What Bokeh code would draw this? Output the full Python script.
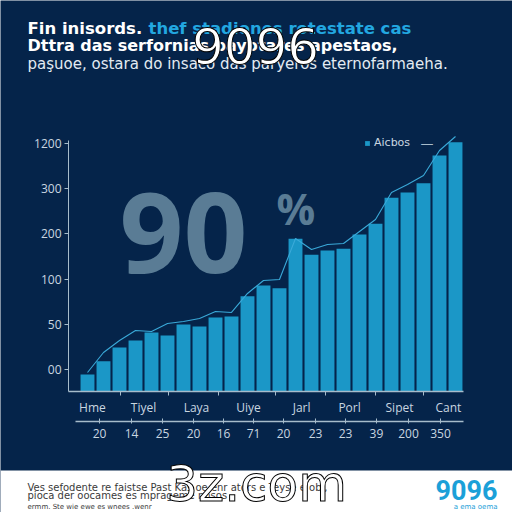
from bokeh.plotting import figure
from bokeh.models import (FixedTicker, LinearAxis, Label, BoxAnnotation, Legend,
                          LegendItem, Range1d, ColumnDataSource)
from bokeh.embed import file_html
from bokeh.resources import INLINE

# ---------------- data ----------------
bar_index = list(range(1, 25))
bar_values = [-5.5, 9.2, 24.3, 32.1, 40.9, 37.6, 49.8, 47.6, 57.5, 58.6, 81.1, 92.9,
              89.9, 144.6, 126.9, 131.6, 133.5, 149.3, 161.1, 189.9, 195.8, 206.1, 236.7, 251.4]
line_values = [-3.3, 18.8, 32.1, 43.1, 42.0, 50.9, 53.1, 56.4, 64.2, 63.1, 84.1, 98.5,
               99.6, 144.9, 132.7, 138.3, 139.4, 152.7, 166.0, 195.8, 204.6, 214.6, 242.3, 257.7]
y_tick_labels = ["00", "50", "100", "200", "300", "1200"]
categories = ["Hme", "Tiyel", "Laya", "Uiye", "Jarl", "Porl", "Sipet", "Cant"]
sub_labels = ["20", "14", "25", "20", "16", "71", "20", "23", "23", "39", "200", "350"]
legend_label = "Aicbos"

# ---------------- layout / style ----------------
W, H = 512, 512
BG = "#05244a"
BAR = "#1b97c7"
LINE = "#3aa9d8"
AX = "#a7bccb"
TXT = "#c9d6e0"

# plot geometry: the frame fills the canvas, axes sit at fixed data locations
X_PX, X0_PX, X0 = 16.0, 68, -0.1875      # px per x unit, pixel of axis, x value there
Y_PX, Y0_PX = 0.904, 369                 # px per y unit, pixel of y = 0
BASE = -24.3                             # value of the x-axis baseline
Y_TOP = 253                              # top of the y-axis line
X_END = 24.5

y_tick_pos = [0, 50, 100, 150, 200, 250]
cat_pos = [1.31, 4.5, 7.81, 11.06, 14.38, 17.38, 20.5, 23.56]
cat_bounds = [3.06, 6.06, 9.19, 12.75, 15.88, 19.0, 22.0]
sub_pos = [1.75, 3.75, 5.69, 7.63, 9.5, 11.38, 13.25, 15.25, 17.13, 19.06, 21.06, 23.06]
SUB_AXIS_Y = -57.5

x_range = Range1d(X0 - X0_PX / X_PX, X0 + (W - X0_PX) / X_PX)
y_range = Range1d(-(H - Y0_PX) / Y_PX, Y0_PX / Y_PX)

p = figure(width=W, height=H, output_backend="svg", toolbar_location=None,
           x_range=x_range, y_range=y_range, x_axis_location=None, y_axis_location=None,
           min_border=0, background_fill_color=BG, border_fill_color=BG,
           outline_line_color=None)
p.grid.visible = False

src = ColumnDataSource(dict(x=bar_index, top=bar_values, line=line_values))


def lab(text, x, y, size, color, font="DejaVu Sans", style="normal", align="left", **kw):
    l = Label(x=x, y=y, x_units="canvas", y_units="canvas", text=text,
              text_font_size=f"{size}px", text_color=color, text_font=font,
              text_font_style=style, text_align=align, text_baseline="middle", **kw)
    p.add_layout(l)
    return l


bars = p.vbar(x="x", top="top", bottom=BASE, width=0.87, source=src,
              fill_color=BAR, line_color=None)
p.line(x="x", y="line", source=src, line_color=LINE, line_width=1.1)


def style_axis(ax, size="12px"):
    ax.axis_line_color = AX
    ax.major_tick_line_color = AX
    ax.minor_tick_line_color = None
    ax.major_label_text_color = TXT
    ax.major_label_text_font = "Open Sans"
    ax.major_label_text_font_size = size


# left axis
ya = LinearAxis(ticker=FixedTicker(ticks=y_tick_pos),
                major_label_overrides=dict(zip(y_tick_pos, y_tick_labels)),
                fixed_location=X0, bounds=(BASE, Y_TOP))
style_axis(ya)
ya.major_tick_out = 4
ya.major_tick_in = 0
ya.major_label_standoff = 3
p.add_layout(ya, "left")

# first x axis: categories
xa = LinearAxis(ticker=FixedTicker(ticks=cat_pos, minor_ticks=cat_bounds),
                major_label_overrides=dict(zip(cat_pos, categories)),
                fixed_location=BASE, bounds=(X0, X_END))
style_axis(xa)
xa.axis_line_width = 1.5
xa.major_tick_line_color = None
xa.minor_tick_line_color = AX
xa.minor_tick_out = 4
xa.minor_tick_in = 0
xa.major_label_standoff = 2
p.add_layout(xa, "below")

# second x axis: numbers
xb = LinearAxis(ticker=FixedTicker(ticks=sub_pos),
                major_label_overrides=dict(zip(sub_pos, sub_labels)),
                fixed_location=SUB_AXIS_Y, bounds=(0.25, X_END))
style_axis(xb)
xb.axis_line_width = 1.5
xb.major_tick_in = 3
xb.major_tick_out = 2
xb.major_label_standoff = 6
p.add_layout(xb, "below")

# big background "90 %"
lab("90", 119, 232, 112, "#5a7c95", font="Open Sans", style="bold")
lab("%", 276, 208, 43, "#5a7c95", font="Open Sans", style="bold")

# legend
leg = Legend(items=[LegendItem(label=legend_label, renderers=[bars])],
             location=(364, H - 149), background_fill_alpha=0, border_line_alpha=0,
             padding=0, margin=0, spacing=0, glyph_width=6, glyph_height=6,
             label_standoff=4, label_height=10, label_text_font_size="11px",
             label_text_color=TXT, label_text_font="DejaVu Sans")
p.add_layout(leg)
lab("\u2014", 420, 143, 13, AX)

# titles
lab("Fin inisords.", 27, 28, 16.5, "#ffffff", style="bold")
lab("thef stadiones rotestate cas", 148, 28, 16.5, "#22a7e0", style="bold")
lab("Dttra das serfornias payotares apestaos,", 27, 45, 16, "#ffffff", style="bold")
lab("paşuoe, ostara do insaco das paryeros eternofarmaeha.", 27, 63, 15, "#e3ebf2")
lab("9096", 255, 45, 50, "#ffffff", align="center", text_outline_color="#000000")

# bottom white strip
p.add_layout(BoxAnnotation(left=0, right=W, top=470, bottom=H, left_units="canvas",
                           right_units="canvas", bottom_units="canvas", top_units="canvas",
                           fill_color="#ffffff", fill_alpha=1, line_color=None))
lab("Ves sefodente re faistse Past Kas oe enr ators e Teyse e obl,", 27, 487, 10, "#3a3a3a")
lab("pioca der oocames es mprageme nnsos", 27, 495, 10, "#3a3a3a")
lab("ermm. Ste wie ewe es wnees .wenr", 27, 506, 7, "#3a3a3a")
lab("9096", 497, 489, 27, "#1ba0d8", font="Roboto", style="bold", align="right")
lab("a ema oema", 497, 506, 7, "#1ba0d8", align="right")
lab("3z.com", 256, 483, 50, "#ffffff", align="center", text_outline_color="#000000")

open("out.html", "w").write(file_html(p, INLINE))
